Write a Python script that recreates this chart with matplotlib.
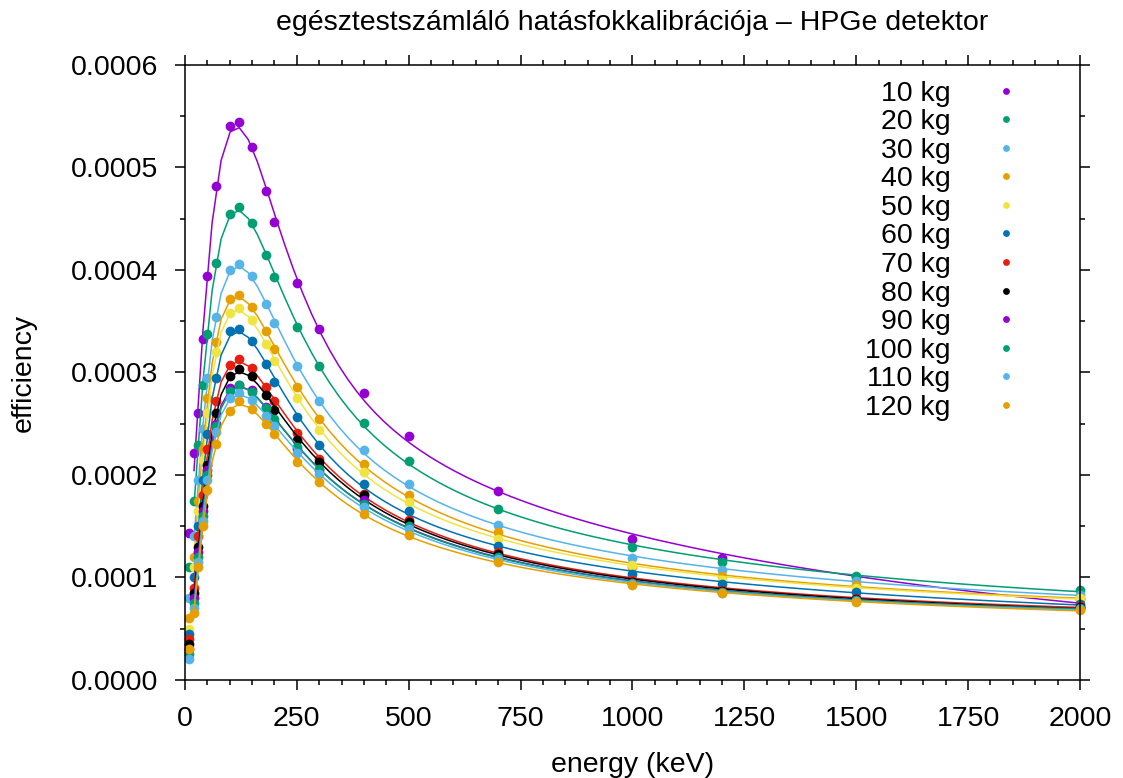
import numpy as np
import matplotlib.pyplot as plt

plt.rcParams['font.family'] = ['Liberation Sans', 'DejaVu Sans']

# energiák (keV)
energia = [10, 20, 30, 40, 50, 70, 100, 120, 150, 180, 200, 250, 300, 400, 500, 700, 1000, 1200, 1500, 2000]

# hatásfok, 1e-4 egységben
eff_10kg = [1.43, 2.21, 2.60, 3.33, 3.94, 4.82, 5.40, 5.44, 5.20, 4.77, 4.47, 3.87, 3.42, 2.80, 2.38, 1.84, 1.38, 1.19, 1.00, 0.79]
eff_20kg = [1.10, 1.75, 2.29, 2.88, 3.38, 4.07, 4.55, 4.61, 4.46, 4.15, 3.93, 3.44, 3.06, 2.51, 2.14, 1.67, 1.30, 1.15, 1.015, 0.88]
eff_30kg = [0.80, 1.40, 1.95, 2.45, 2.95, 3.54, 4.00, 4.06, 3.94, 3.67, 3.48, 3.06, 2.72, 2.24, 1.91, 1.51, 1.19, 1.07, 0.97, 0.83]
eff_40kg = [0.60, 1.20, 1.75, 2.25, 2.75, 3.30, 3.72, 3.76, 3.64, 3.40, 3.23, 2.86, 2.55, 2.11, 1.80, 1.44, 1.10, 1.01, 0.93, 0.80]
eff_50kg = [0.50, 1.10, 1.65, 2.15, 2.60, 3.20, 3.58, 3.63, 3.51, 3.28, 3.11, 2.75, 2.44, 2.03, 1.74, 1.38, 1.12, 0.98, 0.90, 0.80]
eff_60kg = [0.45, 1.00, 1.50, 1.95, 2.40, 2.95, 3.40, 3.42, 3.31, 3.08, 2.91, 2.57, 2.29, 1.91, 1.65, 1.31, 1.03, 0.94, 0.86, 0.74]
eff_70kg = [0.40, 0.90, 1.40, 1.80, 2.25, 2.72, 3.07, 3.13, 3.04, 2.86, 2.72, 2.41, 2.16, 1.81, 1.56, 1.25, 0.98, 0.88, 0.80, 0.72]
eff_80kg = [0.35, 0.85, 1.30, 1.70, 2.10, 2.60, 2.97, 3.03, 2.97, 2.78, 2.63, 2.34, 2.13, 1.80, 1.54, 1.23, 0.96, 0.87, 0.79, 0.71]
eff_90kg = [0.30, 0.80, 1.25, 1.65, 2.05, 2.50, 2.85, 2.88, 2.83, 2.66, 2.52, 2.25, 2.05, 1.76, 1.50, 1.20, 0.95, 0.86, 0.78, 0.70]
eff_100kg = [0.25, 0.75, 1.20, 1.60, 2.00, 2.48, 2.82, 2.88, 2.81, 2.65, 2.55, 2.27, 2.06, 1.72, 1.50, 1.20, 0.95, 0.86, 0.78, 0.70]
eff_110kg = [0.20, 0.70, 1.15, 1.55, 1.95, 2.42, 2.75, 2.80, 2.73, 2.58, 2.48, 2.21, 2.01, 1.69, 1.47, 1.18, 0.94, 0.85, 0.77, 0.69]
eff_120kg = [0.30, 0.65, 1.10, 1.50, 1.85, 2.30, 2.62, 2.72, 2.64, 2.50, 2.40, 2.13, 1.93, 1.62, 1.41, 1.15, 0.93, 0.85, 0.76, 0.68]

sorozatok = [eff_10kg, eff_20kg, eff_30kg, eff_40kg, eff_50kg, eff_60kg,
             eff_70kg, eff_80kg, eff_90kg, eff_100kg, eff_110kg, eff_120kg]
cimkek = ['10 kg', '20 kg', '30 kg', '40 kg', '50 kg', '60 kg',
          '70 kg', '80 kg', '90 kg', '100 kg', '110 kg', '120 kg']
szinek = ['#9400d3', '#009e73', '#56b4e9', '#e69f00', '#f0e442', '#0072b2',
          '#e51e10', '#000000', '#9400d3', '#009e73', '#56b4e9', '#e69f00']

fs = 20.5
csomok = np.log([60, 150, 400])  # spline csomópontok ln(E)-ben


def bazis(t):
    # köbös regressziós spline bázis
    oszlopok = [np.ones_like(t), t, t**2, t**3]
    for k in csomok:
        oszlopok.append(np.clip(t - k, 0, None)**3)
    return np.column_stack(oszlopok)


fig = plt.figure(figsize=(11.23, 7.78), dpi=100)
ax = fig.add_axes([0.1647, 0.126, 0.797, 0.7905])

E = np.array(energia, dtype=float)
# gnuplot-szerű mintavétel az illesztett görbéhez
E_fit = np.linspace(0, 2000, 100)[1:]

for eff, cimke, szin in zip(sorozatok, cimkek, szinek):
    y = np.array(eff) * 1e-4
    # illesztés ln(eff)-re, abszolút hibára súlyozva
    w = y / y.max()
    c, *_ = np.linalg.lstsq(bazis(np.log(E)) * w[:, None], np.log(y) * w, rcond=None)
    ax.plot(E_fit, np.exp(bazis(np.log(E_fit)) @ c), color=szin, lw=1.1)
    ax.plot(E, y, 'o', color=szin, ms=7, mec='none', label=cimke, clip_on=False)

ax.set_xlim(0, 2000)
ax.set_ylim(0, 0.0006)
ax.set_xticks(np.arange(0, 2001, 250))
ax.set_xticks(np.arange(0, 2001, 50), minor=True)
ax.set_yticks(np.arange(0, 0.00061, 0.0001))
ax.set_yticks(np.arange(0, 0.00061, 0.00005), minor=True)
ax.yaxis.set_major_formatter(plt.FormatStrFormatter('%.4f'))

for s in ax.spines.values():
    s.set_linewidth(1.1)
ax.tick_params(which='both', direction='out', top=True, right=True, width=1.1, labelsize=fs)
ax.tick_params(which='major', length=7)
ax.tick_params(which='minor', length=3.5)
ax.tick_params(axis='y', pad=12)
ax.tick_params(axis='x', pad=12)

ax.set_title('egésztestszámláló hatásfokkalibrációja – HPGe detektor', fontsize=fs, pad=25)
ax.set_xlabel('energy (keV)', fontsize=fs, labelpad=14)
ax.set_ylabel('efficiency', fontsize=fs, labelpad=25)

ax.legend(loc='upper right', frameon=False, markerfirst=False, fontsize=fs,
          handlelength=1.0, handletextpad=1.44, labelspacing=0.09, markerscale=0.7,
          borderaxespad=0.3, bbox_to_anchor=(0.955, 1.007))

fig.savefig('out.png', dpi=100)
